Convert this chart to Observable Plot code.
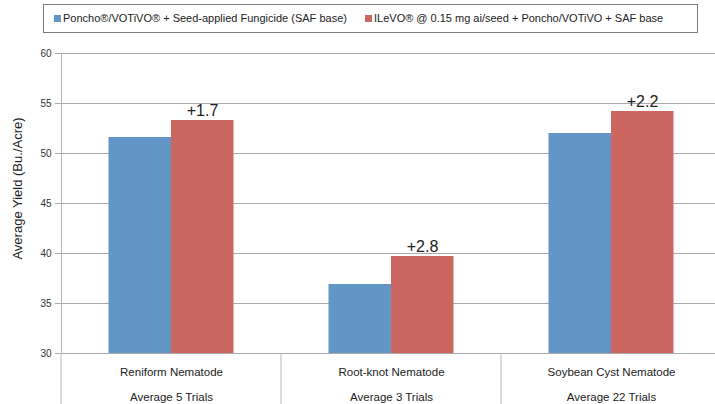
<!DOCTYPE html>
<html>
<head>
<meta charset="utf-8">
<script src="https://cdn.jsdelivr.net/npm/d3@7"></script>
<script src="https://cdn.jsdelivr.net/npm/@observablehq/plot@0.6"></script>
<style>
  body { margin: 0; background: #fff; font-family: "Liberation Sans", Arial, sans-serif; }
  #wrap { position: relative; width: 715px; height: 404px; overflow: hidden; }
  #legend { position: relative; height: 38px; }
  #legend .box { position: absolute; left: 43px; top: 4px; width: 653px; height: 27px; border: 1px solid #7f7f7f; box-sizing: content-box; font-size: 11px; color: #222; white-space: nowrap; }
  #legend .item { position: absolute; top: 7px; }
  #legend .sw { display: inline-block; width: 7px; height: 7px; margin-right: 2px; vertical-align: 0px; }
  svg { display: block; }
</style>
</head>
<body>
<div id="wrap">
  <div id="legend"><div class="box"></div></div>
  <div id="chart"></div>
</div>
<script>
const categories = ["Reniform Nematode", "Root-knot Nematode", "Soybean Cyst Nematode"];
const trials = ["Average 5 Trials", "Average 3 Trials", "Average 22 Trials"];
const series = ["Poncho®/VOTiVO® + Seed-applied Fungicide (SAF base)", "ILeVO® @ 0.15 mg ai/seed + Poncho/VOTiVO + SAF base"];
const baseYield = [51.6, 36.9, 52.0];
const ilevoYield = [53.3, 39.7, 54.2];
const gains = ["+1.7", "+2.8", "+2.2"];
const yTicks = [30, 35, 40, 45, 50, 55, 60];
const colors = ["#6196c7", "#cc6661"];

const rows = [];
categories.forEach((c, i) => {
  rows.push({category: c, series: series[0], value: baseYield[i]});
  rows.push({category: c, series: series[1], value: ilevoYield[i]});
});
const labels = categories.map((c, i) => ({category: c, value: ilevoYield[i], text: gains[i]}));

// legend
const box = document.querySelector("#legend .box");
const legendX = [10, 321];
series.forEach((s, i) => {
  const it = document.createElement("span");
  it.className = "item";
  it.style.left = legendX[i] + "px";
  const sw = document.createElement("span");
  sw.className = "sw";
  sw.style.background = colors[i];
  it.appendChild(sw);
  it.appendChild(document.createTextNode(s));
  box.appendChild(it);
});

const chart = Plot.plot({
  width: 715,
  height: 366,
  marginTop: 15,
  marginBottom: 51,
  marginLeft: 61,
  marginRight: -6,
  style: {fontFamily: "Liberation Sans, Arial, sans-serif", background: "#fff"},
  x: {domain: categories, padding: 0},
  y: {domain: [30, 60]},
  color: {domain: series, range: colors},
  marks: [
    Plot.gridY(yTicks, {stroke: "#a9a9a9", strokeOpacity: 1}),
    Plot.barY(rows.filter(d => d.series === series[0]), {x: "category", y1: 30, y2: "value", fill: "series", insetLeft: 47.5, insetRight: 110}),
    Plot.barY(rows.filter(d => d.series === series[1]), {x: "category", y1: 30, y2: "value", fill: "series", insetLeft: 110, insetRight: 47.5}),
    Plot.frame({anchor: "left", stroke: "#b4b4b4", strokeOpacity: 1}),
    Plot.axisY(yTicks, {tickSize: 6, tickPadding: 4, fontSize: 10, fill: "#333", stroke: "#a9a9a9", label: null, tickFormat: d => d}),
    Plot.axisX({tickSize: 0, tickPadding: 5, fontSize: 11.5, fill: "#222", lineHeight: 2.15, label: null,
      tickFormat: d => d + "\n" + trials[categories.indexOf(d)]}),
    Plot.text(labels, {x: "category", y: "value", text: "text", dx: 31, dy: -5, lineAnchor: "bottom", fontSize: 16, fill: "#222"}),
    Plot.text(["Average Yield (Bu./Acre)"], {frameAnchor: "left", textAnchor: "middle", rotate: -90, dx: -44, dy: -15, fontSize: 13, fill: "#222"})
  ]
});
document.getElementById("chart").appendChild(chart);

// category dividers below the plot area
const xs = chart.scale("x");
const yBottom = 366 - 51;
const svg = d3.select(chart);
categories.forEach((c, i) => {
  const x0 = xs.apply(c);
  svg.append("line")
    .attr("x1", x0).attr("x2", x0)
    .attr("y1", yBottom).attr("y2", 366)
    .attr("stroke", "#c4c4c4").attr("stroke-width", 1.2);
});
</script>
</body>
</html>
